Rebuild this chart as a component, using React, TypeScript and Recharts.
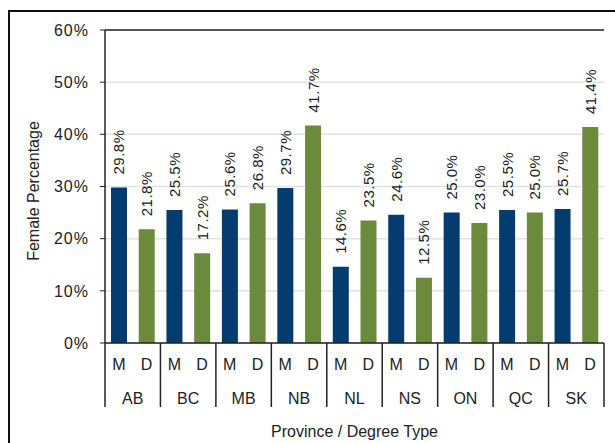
import React from "react";
import {
  BarChart,
  Bar,
  XAxis,
  YAxis,
  CartesianGrid,
  Cell,
  LabelList,
  ReferenceLine,
} from "recharts";

const provinces = ["AB", "BC", "MB", "NB", "NL", "NS", "ON", "QC", "SK"];
const mastersPct = [29.8, 25.5, 25.6, 29.7, 14.6, 24.6, 25.0, 25.5, 25.7];
const doctoratePct = [21.8, 17.2, 26.8, 41.7, 23.5, 12.5, 23.0, 25.0, 41.4];
const yTicks = [0, 10, 20, 30, 40, 50, 60];

const COLORS: Record<string, string> = { M: "#053c70", D: "#6b8a3c" };
const INK = "#222";
const FONT = "'Liberation Sans', Arial, sans-serif";

const W = 615;
const H = 443;
const MARGIN = { top: 30, right: 11, bottom: 0, left: 0 };
const Y_AXIS_W = 105;
const X_AXIS_H = 100;

// one row per bar: masters then doctorate for each province
const rows = provinces.flatMap((prov, i) => [
  { key: `${prov}-M`, prov, type: "M", value: mastersPct[i] },
  { key: `${prov}-D`, prov, type: "D", value: doctoratePct[i] },
]);

const HALF_BAND = (W - MARGIN.left - MARGIN.right - Y_AXIS_W) / rows.length / 2;

const textStyle = { fontFamily: FONT, fontSize: 16, fill: INK };

// two-level category tick: degree type on top, province below with separators
function GroupTick(props: any) {
  const { x, y, payload } = props;
  const idx = rows.findIndex((r) => r.key === payload.value);
  if (idx < 0) return null;
  const row = rows[idx];
  const isFirst = row.type === "M";
  const isLast = idx === rows.length - 1;
  return (
    <g>
      <text x={x} y={y + 21} textAnchor="middle" dominantBaseline="central" style={textStyle}>
        {row.type}
      </text>
      {isFirst && (
        <line x1={x - HALF_BAND} x2={x - HALF_BAND} y1={y} y2={y + 64} stroke={INK} strokeWidth={1.5} />
      )}
      {isFirst && (
        <text x={x + HALF_BAND} y={y + 55} textAnchor="middle" dominantBaseline="central" style={textStyle}>
          {row.prov}
        </text>
      )}
      {isLast && (
        <line x1={x + HALF_BAND} x2={x + HALF_BAND} y1={y} y2={y + 64} stroke={INK} strokeWidth={1.5} />
      )}
    </g>
  );
}

function ValueLabel(props: any) {
  const x = Number(props.x);
  const y = Number(props.y);
  const w = Number(props.width);
  const cx = x + w / 2;
  const by = y - 13;
  return (
    <text
      x={cx}
      y={by}
      transform={`rotate(-90 ${cx} ${by})`}
      textAnchor="start"
      dominantBaseline="central"
      style={{ fontFamily: FONT, fontSize: 15, fill: INK, letterSpacing: 0.5 }}
    >
      {Number(props.value).toFixed(1)}%
    </text>
  );
}

export default function App() {
  return (
    <div
      style={{
        position: "absolute",
        left: 0,
        top: 0,
        width: W,
        height: H,
        overflow: "hidden",
        background: "#fff",
      }}
    >
      <div
        style={{
          position: "absolute",
          left: 8,
          top: 10,
          width: 640,
          height: 460,
          border: "2px solid #111",
        }}
      />
      <div style={{ position: "absolute", left: 0, top: 0 }}>
        <BarChart width={W} height={H} data={rows} margin={MARGIN} barCategoryGap={0}>
          <CartesianGrid vertical={false} stroke="#e2e2e2" strokeWidth={1.5} />
          <XAxis
            dataKey="key"
            height={X_AXIS_H}
            interval={0}
            tick={<GroupTick />}
            tickLine={false}
            tickSize={0}
            tickMargin={0}
            axisLine={{ stroke: INK, strokeWidth: 1.5 }}
            label={(p: any) => {
              const vb = p.viewBox || {};
              const cx = (vb.x ?? 105) + (vb.width ?? 499) / 2;
              return (
                <text x={cx} y={431} textAnchor="middle" dominantBaseline="central" style={textStyle}>
                  Province / Degree Type
                </text>
              );
            }}
          />
          <YAxis
            width={Y_AXIS_W}
            domain={[0, 60]}
            ticks={yTicks}
            interval={0}
            tickFormatter={(v: number) => `${v}%`}
            tickSize={5}
            tickMargin={11}
            tick={{ fontFamily: FONT, fontSize: 16, fill: INK, letterSpacing: 1 }}
            tickLine={{ stroke: INK }}
            axisLine={{ stroke: INK, strokeWidth: 1.5 }}
            label={() => (
              <text
                x={33}
                y={191}
                transform="rotate(-90 33 191)"
                textAnchor="middle"
                dominantBaseline="central"
                style={textStyle}
              >
                Female Percentage
              </text>
            )}
          />
          <YAxis
            yAxisId="frame"
            orientation="right"
            width={0}
            domain={[0, 60]}
            tick={false}
            tickLine={false}
            axisLine={{ stroke: INK, strokeWidth: 1.5 }}
          />
          <ReferenceLine y={60} stroke={INK} strokeWidth={1.5} />
          <Bar dataKey="value" barSize={16} isAnimationActive={false}>
            {rows.map((r) => (
              <Cell key={r.key} fill={COLORS[r.type]} />
            ))}
            <LabelList dataKey="value" content={<ValueLabel />} />
          </Bar>
        </BarChart>
      </div>
    </div>
  );
}
